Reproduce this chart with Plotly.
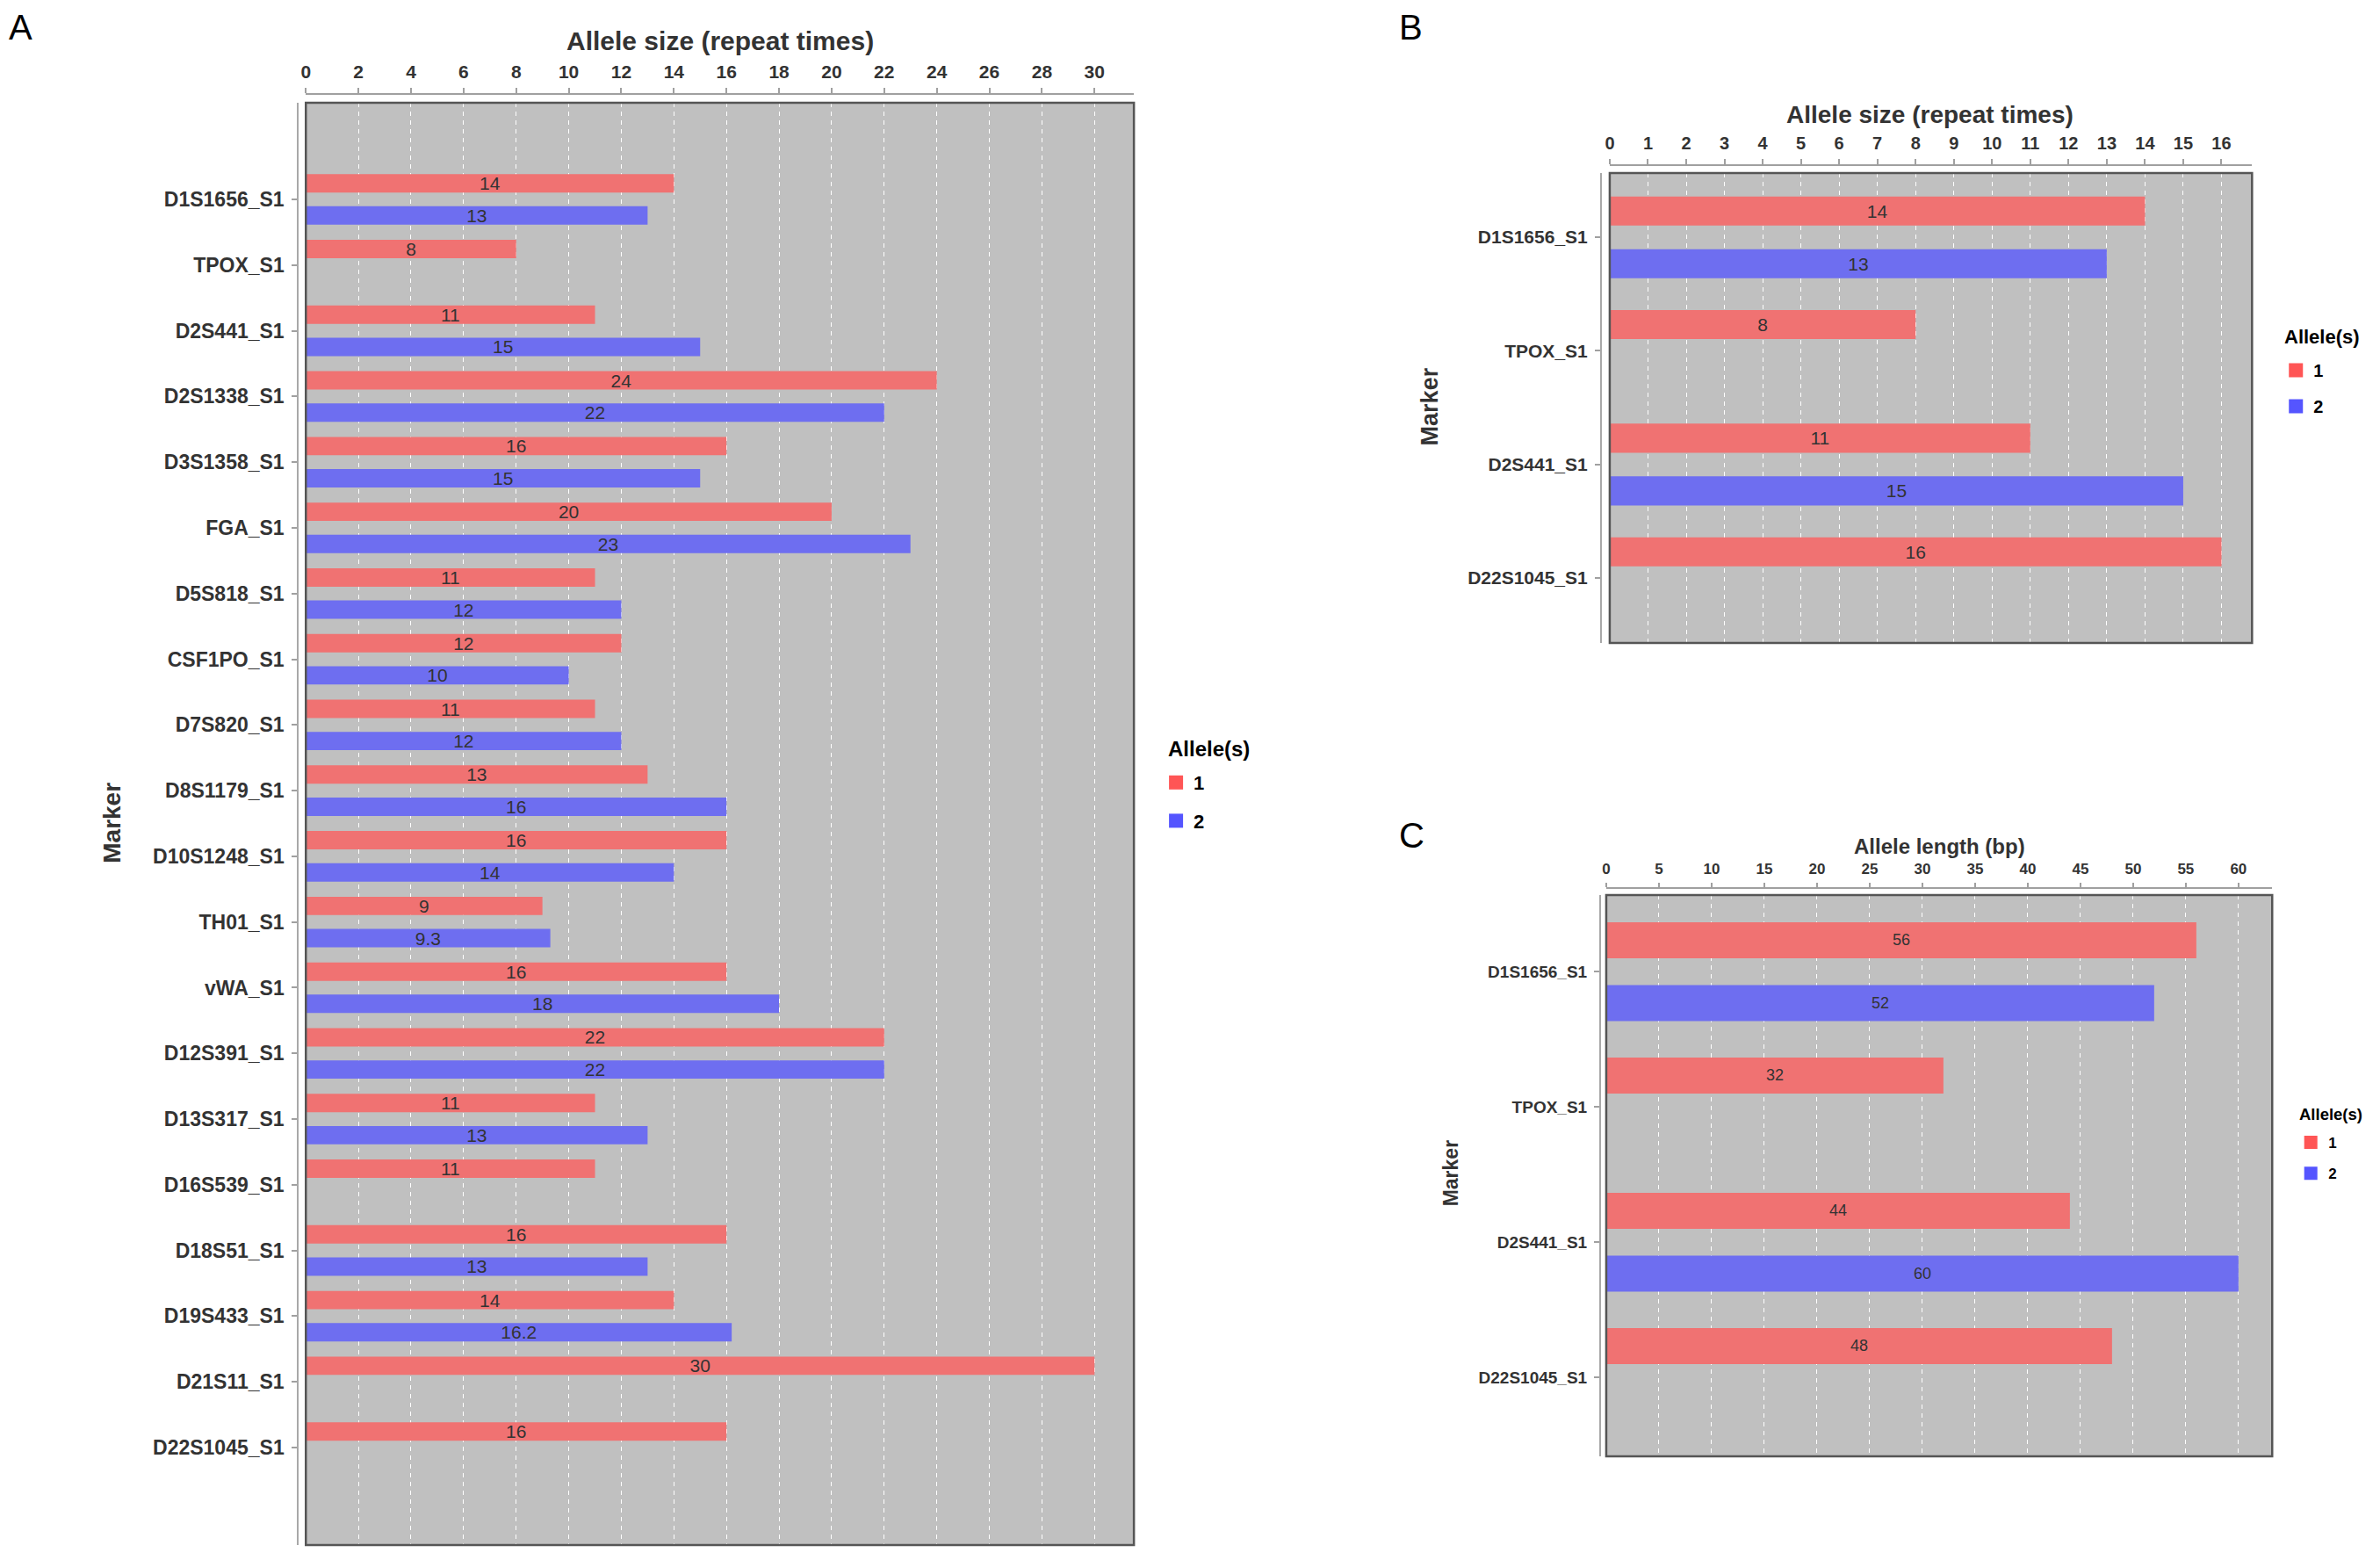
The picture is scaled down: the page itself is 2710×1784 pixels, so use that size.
import plotly.graph_objects as go

# The page body keeps the browser's default 8px margin, so the figure is
# made 16px smaller and all reference pixel positions are shifted by 8px.
PAGE_W, PAGE_H = 2710, 1784
M = 8
W, H = PAGE_W - 2 * M, PAGE_H - 2 * M

# ---------------- data ----------------
markers_a = ["D1S1656_S1", "TPOX_S1", "D2S441_S1", "D2S1338_S1", "D3S1358_S1",
             "FGA_S1", "D5S818_S1", "CSF1PO_S1", "D7S820_S1", "D8S1179_S1",
             "D10S1248_S1", "TH01_S1", "vWA_S1", "D12S391_S1", "D13S317_S1",
             "D16S539_S1", "D18S51_S1", "D19S433_S1", "D21S11_S1", "D22S1045_S1"]
allele1_a = [14, 8, 11, 24, 16, 20, 11, 12, 11, 13, 16, 9, 16, 22, 11, 11, 16, 14, 30, 16]
allele2_a = [13, None, 15, 22, 15, 23, 12, 10, 12, 16, 14, 9.3, 18, 22, 13, None, 13, 16.2, None, None]

markers_bc = ["D1S1656_S1", "TPOX_S1", "D2S441_S1", "D22S1045_S1"]
allele1_b = [14, 8, 11, 16]
allele2_b = [13, None, 15, None]
allele1_c = [56, 32, 44, 48]
allele2_c = [52, None, 60, None]

allele_names = ["1", "2"]

# ---------------- style ----------------
RED = "#F07272"
BLUE = "#6E6EF0"
LEG_RED = "#FF5555"
LEG_BLUE = "#5555FF"
FONT = "Liberation Sans"
TXT = "#333333"


def fx(p):
    return (p - M) / W


def fy(p):
    return 1 - (p - M) / H


panels = [
    dict(key="", leg="legend", markers=markers_a, a1=allele1_a, a2=allele2_a,
         xdom=(343, 1288), ydom=(117, 1759), xline=107, yline=334,
         xrange=[0, 31.5], dtick=2, yrange=[20.484, -1.471],
         w=0.28, off1=-0.385, off2=0.105,
         tickfs=21, yfs=23, valfs=21, ticklen=6, legsym=19),
    dict(key="2", leg="legend2", markers=markers_bc, a1=allele1_b, a2=allele2_b,
         xdom=(1831, 2564), ydom=(197, 732), xline=188, yline=1821,
         xrange=[0, 16.8], dtick=1, yrange=[3.572, -0.564],
         w=0.256, off1=-0.358, off2=0.106,
         tickfs=20, yfs=21, valfs=21, ticklen=6, legsym=17),
    dict(key="3", leg="legend3", markers=markers_bc, a1=allele1_c, a2=allele2_c,
         xdom=(1827, 2587), ydom=(1019, 1658), xline=1011, yline=1820,
         xrange=[0, 63.2], dtick=5, yrange=[3.584, -0.565],
         w=0.266, off1=-0.364, off2=0.1,
         tickfs=17, yfs=19, valfs=18, ticklen=5, legsym=15),
]

fig = go.Figure()
layout = {}
shapes = []

for p in panels:
    xa = "x" + p["key"]
    ya = "y" + p["key"]
    for vals, color, lcolor, off, name in [
            (p["a1"], RED, LEG_RED, p["off1"], allele_names[0]),
            (p["a2"], BLUE, LEG_BLUE, p["off2"], allele_names[1])]:
        fig.add_trace(go.Bar(
            y=p["markers"], x=vals, orientation="h",
            xaxis=xa, yaxis=ya,
            marker=dict(color=color, line=dict(width=0)),
            width=p["w"], offset=off,
            texttemplate="%{x}", textposition="inside",
            insidetextanchor="middle", textangle=0, constraintext="none",
            textfont=dict(family=FONT, size=p["valfs"], color=TXT),
            name=name, showlegend=False, legendgroup=p["leg"] + name,
            hoverinfo="x+y",
        ))
        # legend key (square swatch) for this allele series
        fig.add_trace(go.Scatter(
            x=[None], y=[None], mode="markers", xaxis=xa, yaxis=ya,
            marker=dict(symbol="square", size=p["legsym"], color=lcolor),
            name="<b>" + name + "</b>", legend=p["leg"],
            legendgroup=p["leg"] + name, showlegend=True, hoverinfo="skip",
        ))

    layout["xaxis" + p["key"]] = dict(
        domain=[fx(p["xdom"][0]), fx(p["xdom"][1])],
        range=p["xrange"], tick0=0, dtick=p["dtick"],
        side="top", anchor="free", position=fy(p["xline"]),
        showgrid=True, gridcolor="white", griddash="5px,5px", gridwidth=1,
        zeroline=False, showline=True, linecolor="#A0A0A0", linewidth=2,
        ticks="outside", ticklen=p["ticklen"], tickwidth=1.5, tickcolor="#A0A0A0",
        tickfont=dict(family=FONT, size=p["tickfs"], color=TXT, weight="bold"),
        ticklabelstandoff=3, fixedrange=True,
    )
    layout["yaxis" + p["key"]] = dict(
        domain=[fy(p["ydom"][1]), fy(p["ydom"][0])],
        type="category", range=p["yrange"],
        anchor="free", position=fx(p["yline"]), side="left",
        showgrid=False, zeroline=False, showline=True,
        linecolor="#A8A8A8", linewidth=2,
        ticks="outside", ticklen=6, tickwidth=1.5, tickcolor="#A0A0A0",
        tickfont=dict(family=FONT, size=p["yfs"], color=TXT, weight="bold"),
        ticklabelstandoff=4, fixedrange=True,
    )
    shapes.append(dict(type="rect", xref=xa + " domain", yref=ya + " domain",
                       x0=0, x1=1, y0=0, y1=1,
                       line=dict(color="#555555", width=2.5), layer="above"))


def ann(text, x, y, size, bold=True, color=TXT, angle=0, xanchor="center",
        yanchor="middle"):
    return dict(text=("<b>%s</b>" % text) if bold else text,
                x=fx(x), y=min(fy(y), 1.0), xref="paper", yref="paper",
                xanchor=xanchor, yanchor=yanchor, showarrow=False,
                textangle=angle, borderpad=0,
                font=dict(family=FONT, size=size, color=color))


annotations = [
    # panel letters (box top at the top edge of the figure)
    ann("A", 18, M, 40, bold=False, color="black", yanchor="top"),
    ann("B", 1604, M, 40, bold=False, color="black", yanchor="top"),
    ann("C", 1605, 928, 40, bold=False, color="black", yanchor="top"),
    # x-axis titles
    ann("Allele size (repeat times)", 816, 46, 30),
    ann("Allele size (repeat times)", 2196, 131, 28),
    ann("Allele length (bp)", 2207, 963, 24),
    # y-axis titles
    ann("Marker", 121, 937, 28, angle=-90),
    ann("Marker", 1626, 463, 27, angle=-90),
    ann("Marker", 1650, 1336, 23, angle=-90),
    # legend titles
    ann("Allele(s)", 1326, 852, 24, color="black", xanchor="left"),
    ann("Allele(s)", 2600, 383, 22, color="black", xanchor="left"),
    ann("Allele(s)", 2617, 1268, 18.5, color="black", xanchor="left"),
]


def legend_cfg(x, y, isize, gap):
    return dict(x=fx(x), y=fy(y), xanchor="left", yanchor="top",
                bgcolor="rgba(0,0,0,0)", borderwidth=0,
                font=dict(family=FONT, size=isize, color="black"),
                tracegroupgap=gap, traceorder="grouped", itemclick=False,
                itemdoubleclick=False)


fig.update_layout(
    width=W, height=H,
    margin=dict(l=0, r=0, t=0, b=0),
    paper_bgcolor="white", plot_bgcolor="#C0C0C0",
    barmode="overlay",
    showlegend=True,
    legend=legend_cfg(1316, 870, 22, 12),
    legend2=legend_cfg(2594, 402, 20, 12),
    legend3=legend_cfg(2611, 1283, 17, 10),
    shapes=shapes, annotations=annotations,
    hovermode="closest",
    **layout,
)

fig.write_html("out.html")
